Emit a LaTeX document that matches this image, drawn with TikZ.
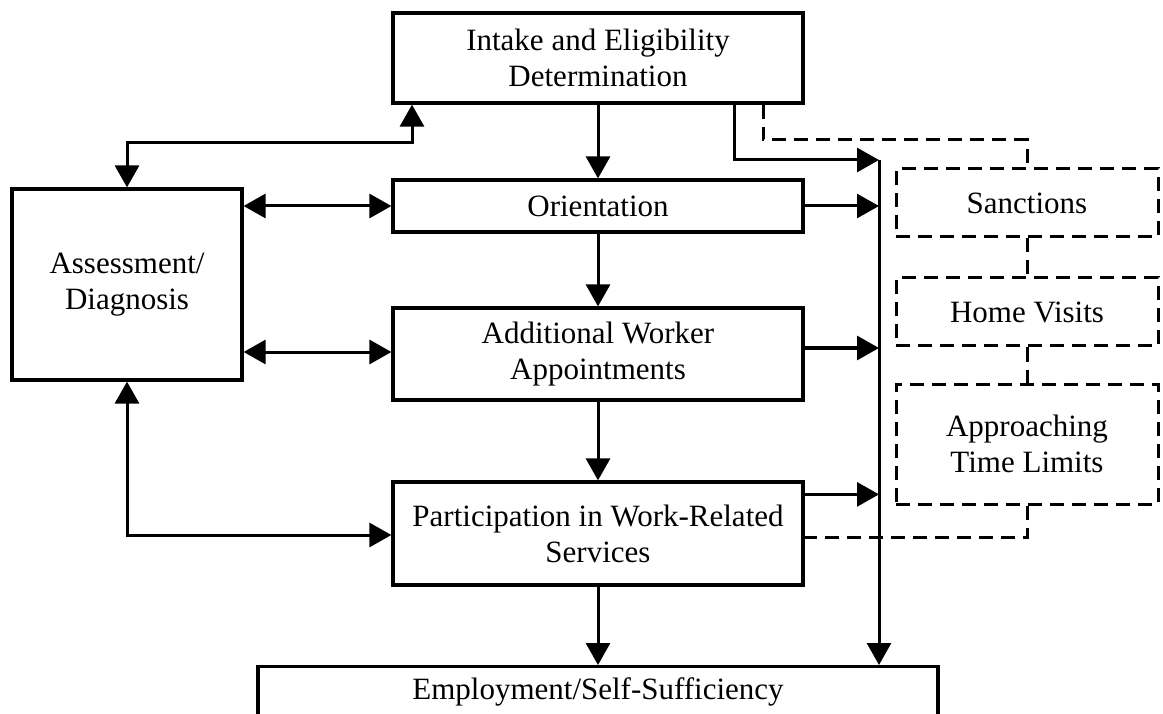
\documentclass[tikz,border=0pt]{standalone}
\usepackage{fontspec}
\setmainfont{Liberation Serif}
\usetikzlibrary{arrows.meta,calc}
\begin{document}
\begin{tikzpicture}[x=1pt,y=-1pt,
  box/.style={draw,line width=3.2pt,align=center,inner sep=0pt,font=\fontsize{31}{36}\selectfont},
  dbox/.style={box,line width=3pt,dash pattern=on 14pt off 8pt},
  arr/.style={line width=3pt,-{Triangle[length=22pt,width=24pt]}},
  dbl/.style={line width=3pt,{Triangle[length=22pt,width=24pt]}-{Triangle[length=22pt,width=24pt]}},
  dsh/.style={line width=3pt,dash pattern=on 14pt off 8pt}]
\clip (0,0) rectangle (1163,714);
\fill[white] (0,0) rectangle (1163,714);
\node[box,minimum width=410pt,minimum height=90pt] (intake) at (598,58) {Intake and Eligibility\\Determination};
\node[box,minimum width=410pt,minimum height=52pt] (orient) at (598,206) {Orientation};
\node[box,minimum width=410pt,minimum height=92pt] (awa) at (598,354) {Additional Worker\\Appointments};
\node[box,minimum width=410pt,minimum height=103pt] (part) at (598,533.5) {Participation in Work-Related\\Services};
\node[box,minimum width=680pt,minimum height=100pt,anchor=north] (employ) at (598,665) {};
\node[font=\fontsize{31}{36}\selectfont] (emptxt) at (598,692) {Employment/Self-Sufficiency};
\node[box,minimum width=230pt,minimum height=191pt] (assess) at (127,284.5) {Assessment/\\Diagnosis};
\node[dbox,minimum width=262pt,minimum height=68pt] (sanc) at (1027,203) {Sanctions};
\node[dbox,minimum width=262pt,minimum height=68pt] (home) at (1027,312) {Home Visits};
\node[dbox,minimum width=262pt,minimum height=120pt] (appr) at (1027,444) {Approaching\\Time Limits};
% bus line
\coordinate (bustop) at (879,160);
\draw[arr] ([xshift=-70pt]intake.south east) |- (bustop);
\draw[arr] (bustop) -- (bustop |- employ.north);
\draw[arr] (orient.east) -- (orient.east -| bustop);
\draw[arr] ([yshift=6pt]awa.east) -- ([yshift=6pt]awa.east -| bustop);
\draw[arr] ([yshift=-14pt]part.north east) -- ([yshift=-14pt]part.north east -| bustop);
% main flow
\draw[arr] (intake) -- (orient);
\draw[arr] (orient) -- (awa);
\draw[arr] (awa) -- (part);
\draw[arr] (part) -- (part.south |- employ.north);
% assessment links
\coordinate (k) at (412,143);
\draw[dbl] (assess.north) |- (k) -- (k |- intake.south);
\draw[dbl] (assess.east |- orient.west) -- (orient.west);
\draw[dbl] ([yshift=2pt]assess.east |- awa.west) -- ([yshift=2pt]awa.west);
\draw[dbl] (assess.south) |- ([yshift=-1.5pt]part.west);
% dashed links
\coordinate (dk) at (763,140);
\draw[dsh] (dk |- intake.south) -- (dk) -| (sanc.north);
\draw[dsh] (sanc.south) -- (home.north);
\draw[dsh] (home.south) -- (appr.north);
\draw[dsh] (appr.south) |- ([yshift=-3.5pt]part.east);
\end{tikzpicture}
\end{document}
